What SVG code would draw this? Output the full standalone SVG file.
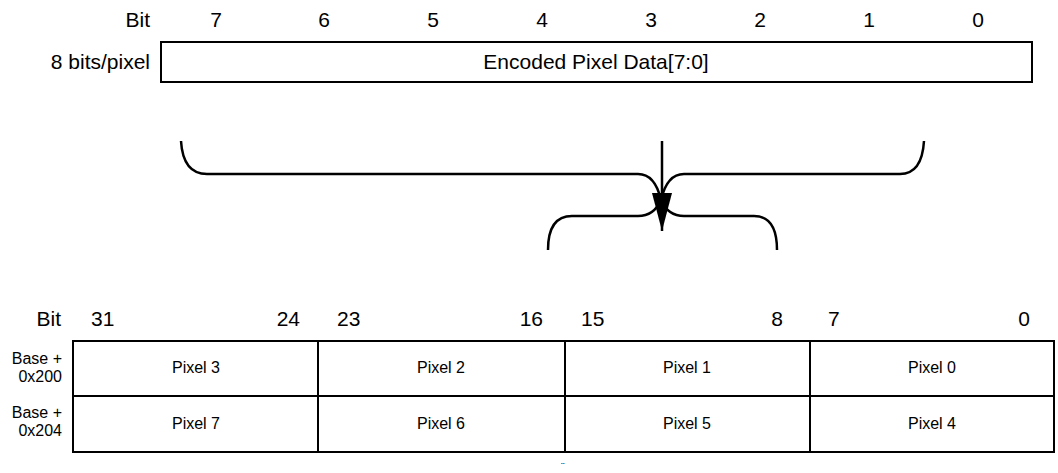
<svg xmlns="http://www.w3.org/2000/svg" width="1058" height="473" viewBox="0 0 1058 473">
<style>
.t{font-family:"Liberation Sans",Arial,sans-serif;fill:#000}
.big{font-size:21px}
.sm{font-size:16px}
.box{fill:#fff;stroke:#000;stroke-width:2}
.ln{fill:none;stroke:#000;stroke-width:2.5}
</style>
<defs>
<marker id="ah" markerWidth="38" markerHeight="20" refX="38" refY="10" orient="auto" markerUnits="userSpaceOnUse" viewBox="0 0 38 20">
<path d="M0,0 L38,10 L0,20 Z" fill="#000"/>
</marker>
</defs>
<rect width="1058" height="473" fill="#fff"/>
<g id="top-header" class="t big">
<text x="150" y="27" text-anchor="end">Bit</text>
<text x="216" y="27" text-anchor="middle">7</text>
<text x="324" y="27" text-anchor="middle">6</text>
<text x="433" y="27" text-anchor="middle">5</text>
<text x="542" y="27" text-anchor="middle">4</text>
<text x="651" y="27" text-anchor="middle">3</text>
<text x="760" y="27" text-anchor="middle">2</text>
<text x="869" y="27" text-anchor="middle">1</text>
<text x="978" y="27" text-anchor="middle">0</text>
</g>
<g id="encoded-node">
<rect class="box" x="161" y="42" width="871" height="40"/>
<text class="t big" x="150" y="69" text-anchor="end">8 bits/pixel</text>
<text class="t big" x="596" y="69" text-anchor="middle">Encoded Pixel Data[7:0]</text>
</g>
<g id="connectors">
<path class="ln" d="M181,141 Q183,174 207,174 L638,174 Q655,174 661,200 Q667,174 684,174 L900,174 Q922,174 924,141"/>
<path class="ln" d="M548,250 Q548,216 572,216 L638,216 Q654,216 661,200 Q668,216 684,216 L754,216 Q777,216 777,250"/>
<line x1="662" y1="141" x2="662" y2="231" stroke="#000" stroke-width="2.5" marker-end="url(#ah)"/>
</g>
<g id="bottom-header" class="t big">
<text x="61" y="326" text-anchor="end">Bit</text>
<text x="91" y="326">31</text>
<text x="300" y="326" text-anchor="end">24</text>
<text x="337" y="326">23</text>
<text x="543" y="326" text-anchor="end">16</text>
<text x="581" y="326">15</text>
<text x="783" y="326" text-anchor="end">8</text>
<text x="828" y="326">7</text>
<text x="1030" y="326" text-anchor="end">0</text>
</g>
<g id="row-labels" class="t sm">
<text x="62" y="364" text-anchor="end">Base +</text>
<text x="62" y="382" text-anchor="end">0x200</text>
<text x="62" y="418" text-anchor="end">Base +</text>
<text x="62" y="436" text-anchor="end">0x204</text>
</g>
<g id="pixel-3"><rect class="box" x="73" y="341" width="245" height="55"/><text class="t sm" x="196" y="373" text-anchor="middle">Pixel 3</text></g>
<g id="pixel-2"><rect class="box" x="318" y="341" width="247" height="55"/><text class="t sm" x="441" y="373" text-anchor="middle">Pixel 2</text></g>
<g id="pixel-1"><rect class="box" x="565" y="341" width="245" height="55"/><text class="t sm" x="687" y="373" text-anchor="middle">Pixel 1</text></g>
<g id="pixel-0"><rect class="box" x="810" y="341" width="244" height="55"/><text class="t sm" x="932" y="373" text-anchor="middle">Pixel 0</text></g>
<g id="pixel-7"><rect class="box" x="73" y="396" width="245" height="56"/><text class="t sm" x="196" y="429" text-anchor="middle">Pixel 7</text></g>
<g id="pixel-6"><rect class="box" x="318" y="396" width="247" height="56"/><text class="t sm" x="441" y="429" text-anchor="middle">Pixel 6</text></g>
<g id="pixel-5"><rect class="box" x="565" y="396" width="245" height="56"/><text class="t sm" x="687" y="429" text-anchor="middle">Pixel 5</text></g>
<g id="pixel-4"><rect class="box" x="810" y="396" width="244" height="56"/><text class="t sm" x="932" y="429" text-anchor="middle">Pixel 4</text></g>
<text class="t" style="font-size:10px" x="563" y="471" text-anchor="middle">¨</text>
</svg>
